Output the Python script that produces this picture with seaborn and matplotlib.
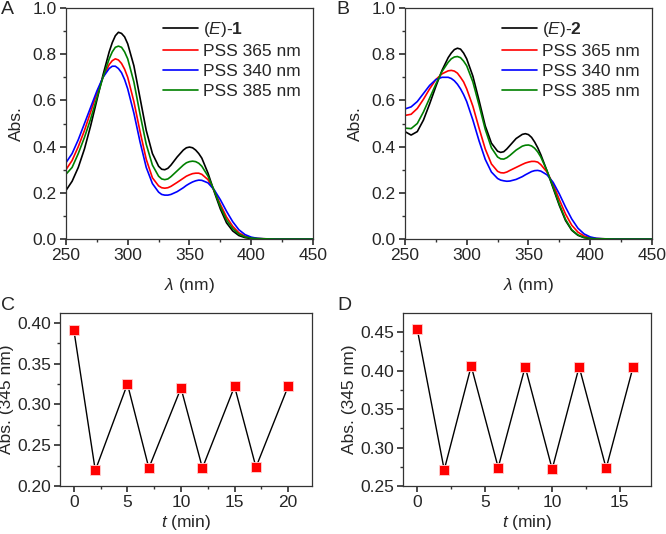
import numpy as np
import pandas as pd
import seaborn as sns
import matplotlib.pyplot as plt

# Wavelength grid (nm) for the spectra
wl = [250, 255, 260, 265, 270, 275,
      280, 285, 287.5, 290, 292.5, 295, 297.5, 300,
      305, 310, 315, 320, 325,
      327.5, 330, 332.5, 335,
      340, 345, 347.5, 350, 352.5, 355, 357.5, 360,
      365, 370, 375, 380, 385, 390, 395, 400, 405, 410,
      420, 450]

# Panel A spectra
a_e1 = [.21, .25, .31, .39, .49, .60,
        .71, .81, .85, .88, .895, .89, .875, .845,
        .75, .61, .47, .37, .315,
        .302, .30, .306, .32,
        .355, .385, .395, .398, .395, .385, .37, .35,
        .285, .205, .13, .07, .035, .015, .006, .002, .001, .001,
        0, 0]
a_365 = [.30, .34, .40, .47, .55, .63,
         .70, .755, .772, .78, .775, .76, .735, .70,
         .595, .465, .345, .265, .23,
         .222, .22, .222, .228,
         .245, .263, .272, .278, .283, .285, .285, .28,
         .257, .21, .15, .095, .055, .027, .012, .005, .002, .001,
         0, 0]
a_340 = [.33, .37, .43, .50, .57, .64,
         .70, .738, .748, .748, .738, .72, .69, .65,
         .545, .42, .31, .24, .203,
         .193, .19, .19, .193,
         .205, .222, .232, .24, .247, .252, .255, .254,
         .243, .213, .17, .12, .075, .04, .019, .008, .003, .001,
         0, 0]
a_385 = [.28, .31, .37, .44, .52, .61,
         .70, .78, .81, .83, .835, .83, .81, .78,
         .68, .54, .41, .32, .272,
         .26, .257, .26, .27,
         .295, .32, .33, .335, .337, .335, .328, .315,
         .272, .21, .14, .082, .045, .021, .009, .004, .002, .001,
         0, 0]

# Panel B spectra
b_e2 = [.465, .45, .465, .515, .585, .66,
        .73, .785, .805, .82, .826, .822, .805, .78,
        .705, .60, .49, .415, .38,
        .375, .378, .39, .405,
        .435, .453, .456, .452, .44, .42, .395, .365,
        .295, .22, .145, .08, .038, .016, .006, .002, .001, .001,
        0, 0]
b_365 = [.535, .54, .565, .605, .65, .69,
         .715, .728, .73, .727, .718, .70, .68, .65,
         .575, .48, .39, .325, .293,
         .287, .286, .29, .297,
         .31, .323, .329, .333, .336, .336, .333, .322,
         .29, .237, .17, .108, .06, .03, .013, .005, .002, .001,
         0, 0]
b_340 = [.563, .572, .595, .63, .665, .69,
         .70, .70, .695, .685, .67, .65, .625, .595,
         .515, .425, .345, .29, .262,
         .255, .252, .25, .251,
         .258, .27, .278, .285, .292, .296, .297, .294,
         .278, .245, .195, .138, .087, .047, .022, .009, .003, .001,
         0, 0]
b_385 = [.48, .478, .50, .55, .61, .67,
         .725, .765, .78, .788, .79, .785, .77, .75,
         .68, .58, .475, .395, .355,
         .347, .346, .352, .362,
         .385, .402, .406, .407, .403, .393, .377, .355,
         .295, .225, .15, .085, .04, .018, .007, .003, .001, .001,
         0, 0]

# Switching cycles
c_t = [0, 2, 5, 7, 10, 12, 15, 17, 20]
c_abs = [0.391, 0.219, 0.325, 0.222, 0.320, 0.222, 0.322, 0.223, 0.322]
d_t = [0, 2, 4, 6, 8, 10, 12, 14, 16]
d_abs = [0.454, 0.271, 0.406, 0.274, 0.405, 0.272, 0.405, 0.273, 0.405]

labels_a = ["($\\it{E}$)-$\\bf{1}$", "PSS 365 nm", "PSS 340 nm", "PSS 385 nm"]
labels_b = ["($\\it{E}$)-$\\bf{2}$", "PSS 365 nm", "PSS 340 nm", "PSS 385 nm"]
colors = ["black", "#ff0000", "#0000ff", "#008000"]

sns.set_theme(style="ticks")
plt.rcParams["font.family"] = ["Liberation Sans", "DejaVu Sans"]
plt.rcParams["mathtext.fontset"] = "custom"
plt.rcParams["mathtext.rm"] = "Liberation Sans"
plt.rcParams["mathtext.it"] = "Liberation Sans:italic"
plt.rcParams["mathtext.bf"] = "Liberation Sans:bold"
plt.rcParams["axes.linewidth"] = 0.9
plt.rcParams["axes.edgecolor"] = "#333333"

FS = 12.5


def long_df(series, labels):
    rows = []
    for vals, lab in zip(series, labels):
        rows.append(pd.DataFrame({"wl": wl, "abs": vals, "label": lab}))
    return pd.concat(rows, ignore_index=True)


def style_axis(ax):
    for s in ax.spines.values():
        s.set_visible(True)
    ax.tick_params(axis="both", which="both", direction="out", top=False, right=False,
                   labelsize=FS, color="#333333", pad=2.5)
    ax.tick_params(which="major", length=4)
    ax.tick_params(which="minor", length=2.5)


fig = plt.figure(figsize=(6.66, 5.34), dpi=100)

pos = {
    "A": [0.099, 0.5524, 0.371, 0.4326],
    "B": [0.608, 0.5524, 0.371, 0.4326],
    "C": [0.090, 0.0899, 0.378, 0.324],
    "D": [0.605, 0.0899, 0.372, 0.324],
}
letter_xy = {"A": (1, 10), "B": (336, 10), "C": (1, 305), "D": (337, 305)}

for key, series, labels in [("A", [a_e1, a_365, a_340, a_385], labels_a),
                            ("B", [b_e2, b_365, b_340, b_385], labels_b)]:
    ax = fig.add_axes(pos[key])
    df = long_df(series, labels)
    sns.lineplot(data=df, x="wl", y="abs", hue="label", palette=colors,
                 linewidth=1.2, ax=ax)
    ax.set_xlim(250, 450)
    ax.set_ylim(0, 1.0)
    ax.set_xticks([250, 300, 350, 400, 450])
    ax.set_xticks(np.arange(275, 450, 50), minor=True)
    ax.set_yticks([0, 0.2, 0.4, 0.6, 0.8, 1.0])
    ax.set_yticks(np.arange(0.1, 1.0, 0.2), minor=True)
    ax.yaxis.set_major_formatter(plt.FormatStrFormatter("%.1f"))
    ax.set_xlabel("$\\lambda$ (nm)", fontsize=FS, labelpad=9)
    ax.set_ylabel("Abs.", fontsize=FS, labelpad=6)
    leg = ax.legend(loc="upper right", frameon=False, fontsize=FS,
                    handlelength=2.0, labelspacing=0.28, borderaxespad=0.3,
                    handletextpad=0.3, bbox_to_anchor=(1.0, 1.0))
    for line in leg.get_lines():
        line.set_linewidth(1.2)
    style_axis(ax)

for key, t, a, ylim, yt, xlim, xt in [
        ("C", c_t, c_abs, (0.20, 0.412), [0.20, 0.25, 0.30, 0.35, 0.40], (-1.3, 22.2), [0, 5, 10, 15, 20]),
        ("D", d_t, d_abs, (0.25, 0.475), [0.25, 0.30, 0.35, 0.40, 0.45], (-1.06, 17.3), [0, 5, 10, 15])]:
    ax = fig.add_axes(pos[key])
    df = pd.DataFrame({"t": t, "abs": a})
    sns.lineplot(data=df, x="t", y="abs", color="black", linewidth=1.0, ax=ax)
    sns.scatterplot(data=df, x="t", y="abs", marker="s", s=45, color="#ff0000",
                    edgecolor="#ffd0d0", linewidth=0.6, zorder=3, ax=ax)
    ax.set_xlim(*xlim)
    ax.set_ylim(*ylim)
    ax.set_xticks(xt)
    ax.set_xticks(np.arange(2.5, xlim[1], 5), minor=True)
    ax.set_yticks(yt)
    ax.set_yticks(np.arange(yt[0] + 0.025, ylim[1], 0.05), minor=True)
    ax.yaxis.set_major_formatter(plt.FormatStrFormatter("%.2f"))
    ax.set_xlabel("$\\it{t}$ (min)", fontsize=FS, labelpad=2)
    ax.set_ylabel("Abs. (345 nm)", fontsize=FS, labelpad=2)
    style_axis(ax)

for key, (px, py) in letter_xy.items():
    fig.text(px / 666, 1 - py / 534, key, fontsize=14, ha="left", va="center")

fig.savefig("out.png", dpi=100)
